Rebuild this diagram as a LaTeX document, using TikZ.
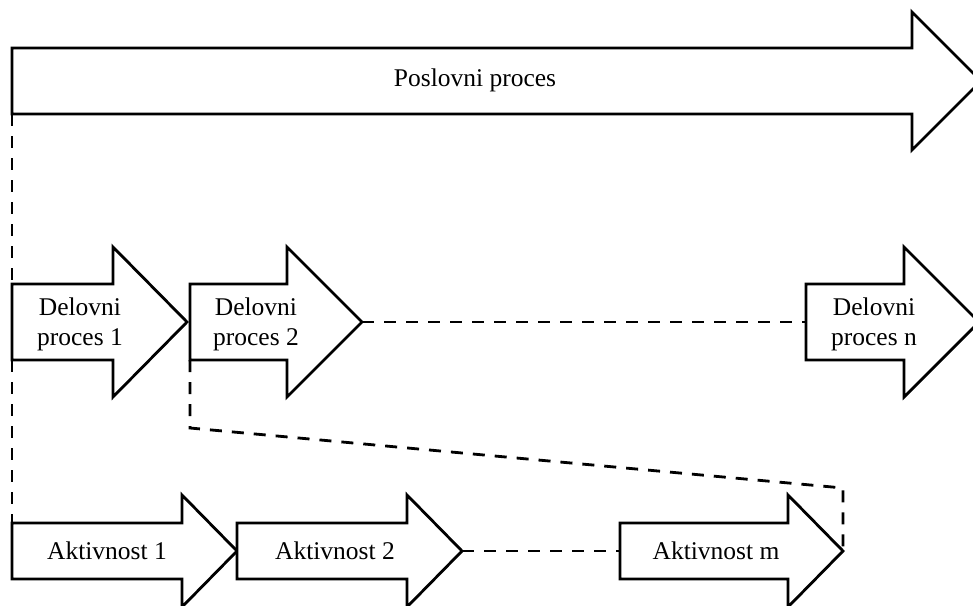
\documentclass[tikz,border=0pt]{standalone}
\usepackage{fontspec}
\setmainfont{Liberation Serif}
\usepackage{tikz}

\begin{document}
\begin{tikzpicture}[x=1pt, y=-1pt]
        % Define styles
        \tikzset{
            arrowbox/.style={draw, line width=2.8pt, fill=white, line join=miter},
            link/.style={draw, line width=2.8pt, dash pattern=on 12pt off 10pt},
            label/.style={font=\fontsize{25.5}{30}\selectfont, align=center, inner sep=0pt}
        }
        \clip (0,0) rectangle (973,605);

        % Poslovni proces
        \coordinate (pp_nw) at (12,48);
        \coordinate (pp_sw) at (12,114);
        \draw[arrowbox] (pp_nw) -- (912,48) -- (912,12) -- (981,81) -- (912,150) -- (912,114) -- (pp_sw) -- cycle;
        \node[label] (pp_text) at (475,80) {Poslovni proces};

        % Delovni procesi
        \coordinate (dp1_nw) at (12,284);
        \coordinate (dp1_sw) at (12,360);
        \coordinate (dp1_tip) at (187,322);
        \draw[arrowbox] (dp1_nw) -- (113,284) -- (113,247) -- (dp1_tip) -- (113,397) -- (113,360) -- (dp1_sw) -- cycle;
        \node[label] (dp1_text) at (80,324) {Delovni\\proces 1};

        \coordinate (dp2_sw) at (190,360);
        \coordinate (dp2_tip) at (362,322);
        \draw[arrowbox] (190,284) -- (287,284) -- (287,247) -- (dp2_tip) -- (287,397) -- (287,360) -- (dp2_sw) -- cycle;
        \node[label] (dp2_text) at (256,324) {Delovni\\proces 2};

        \coordinate (dpn_w) at (806,322);
        \draw[arrowbox] (806,284) -- (904,284) -- (904,247) -- (979,322) -- (904,397) -- (904,360) -- (806,360) -- cycle;
        \node[label] (dpn_text) at (874,324) {Delovni\\proces n};

        % Aktivnosti
        \coordinate (a1_nw) at (12,523);
        \draw[arrowbox] (a1_nw) -- (182,523) -- (182,495) -- (237,551) -- (182,607) -- (182,579) -- (12,579) -- cycle;
        \node[label] (a1_text) at (107,551) {Aktivnost 1};

        \coordinate (a2_tip) at (462,551);
        \draw[arrowbox] (237,523) -- (407,523) -- (407,495) -- (a2_tip) -- (407,607) -- (407,579) -- (237,579) -- cycle;
        \node[label] (a2_text) at (335,551) {Aktivnost 2};

        \coordinate (am_w) at (620,551);
        \coordinate (am_tip) at (843,551);
        \draw[arrowbox] (am_w) -- (620,523) -- (788,523) -- (788,495) -- (am_tip) -- (788,607) -- (788,579) -- (620,579) -- cycle;
        \node[label] (am_text) at (716,551) {Aktivnost m};

        % Dashed links
        \coordinate (bend_a) at (190,428);
        \coordinate (bend_b) at (843,488);
        \draw[link] (pp_sw) -- (dp1_nw);
        \draw[link] (dp1_sw) -- (a1_nw);
        \draw[link] (dp2_tip) -- (dpn_w);
        \draw[link] (a2_tip) -- (am_w);
        \draw[link] (dp2_sw) -- (bend_a) -- (bend_b) -- (am_tip);
    \end{tikzpicture}
\end{document}
